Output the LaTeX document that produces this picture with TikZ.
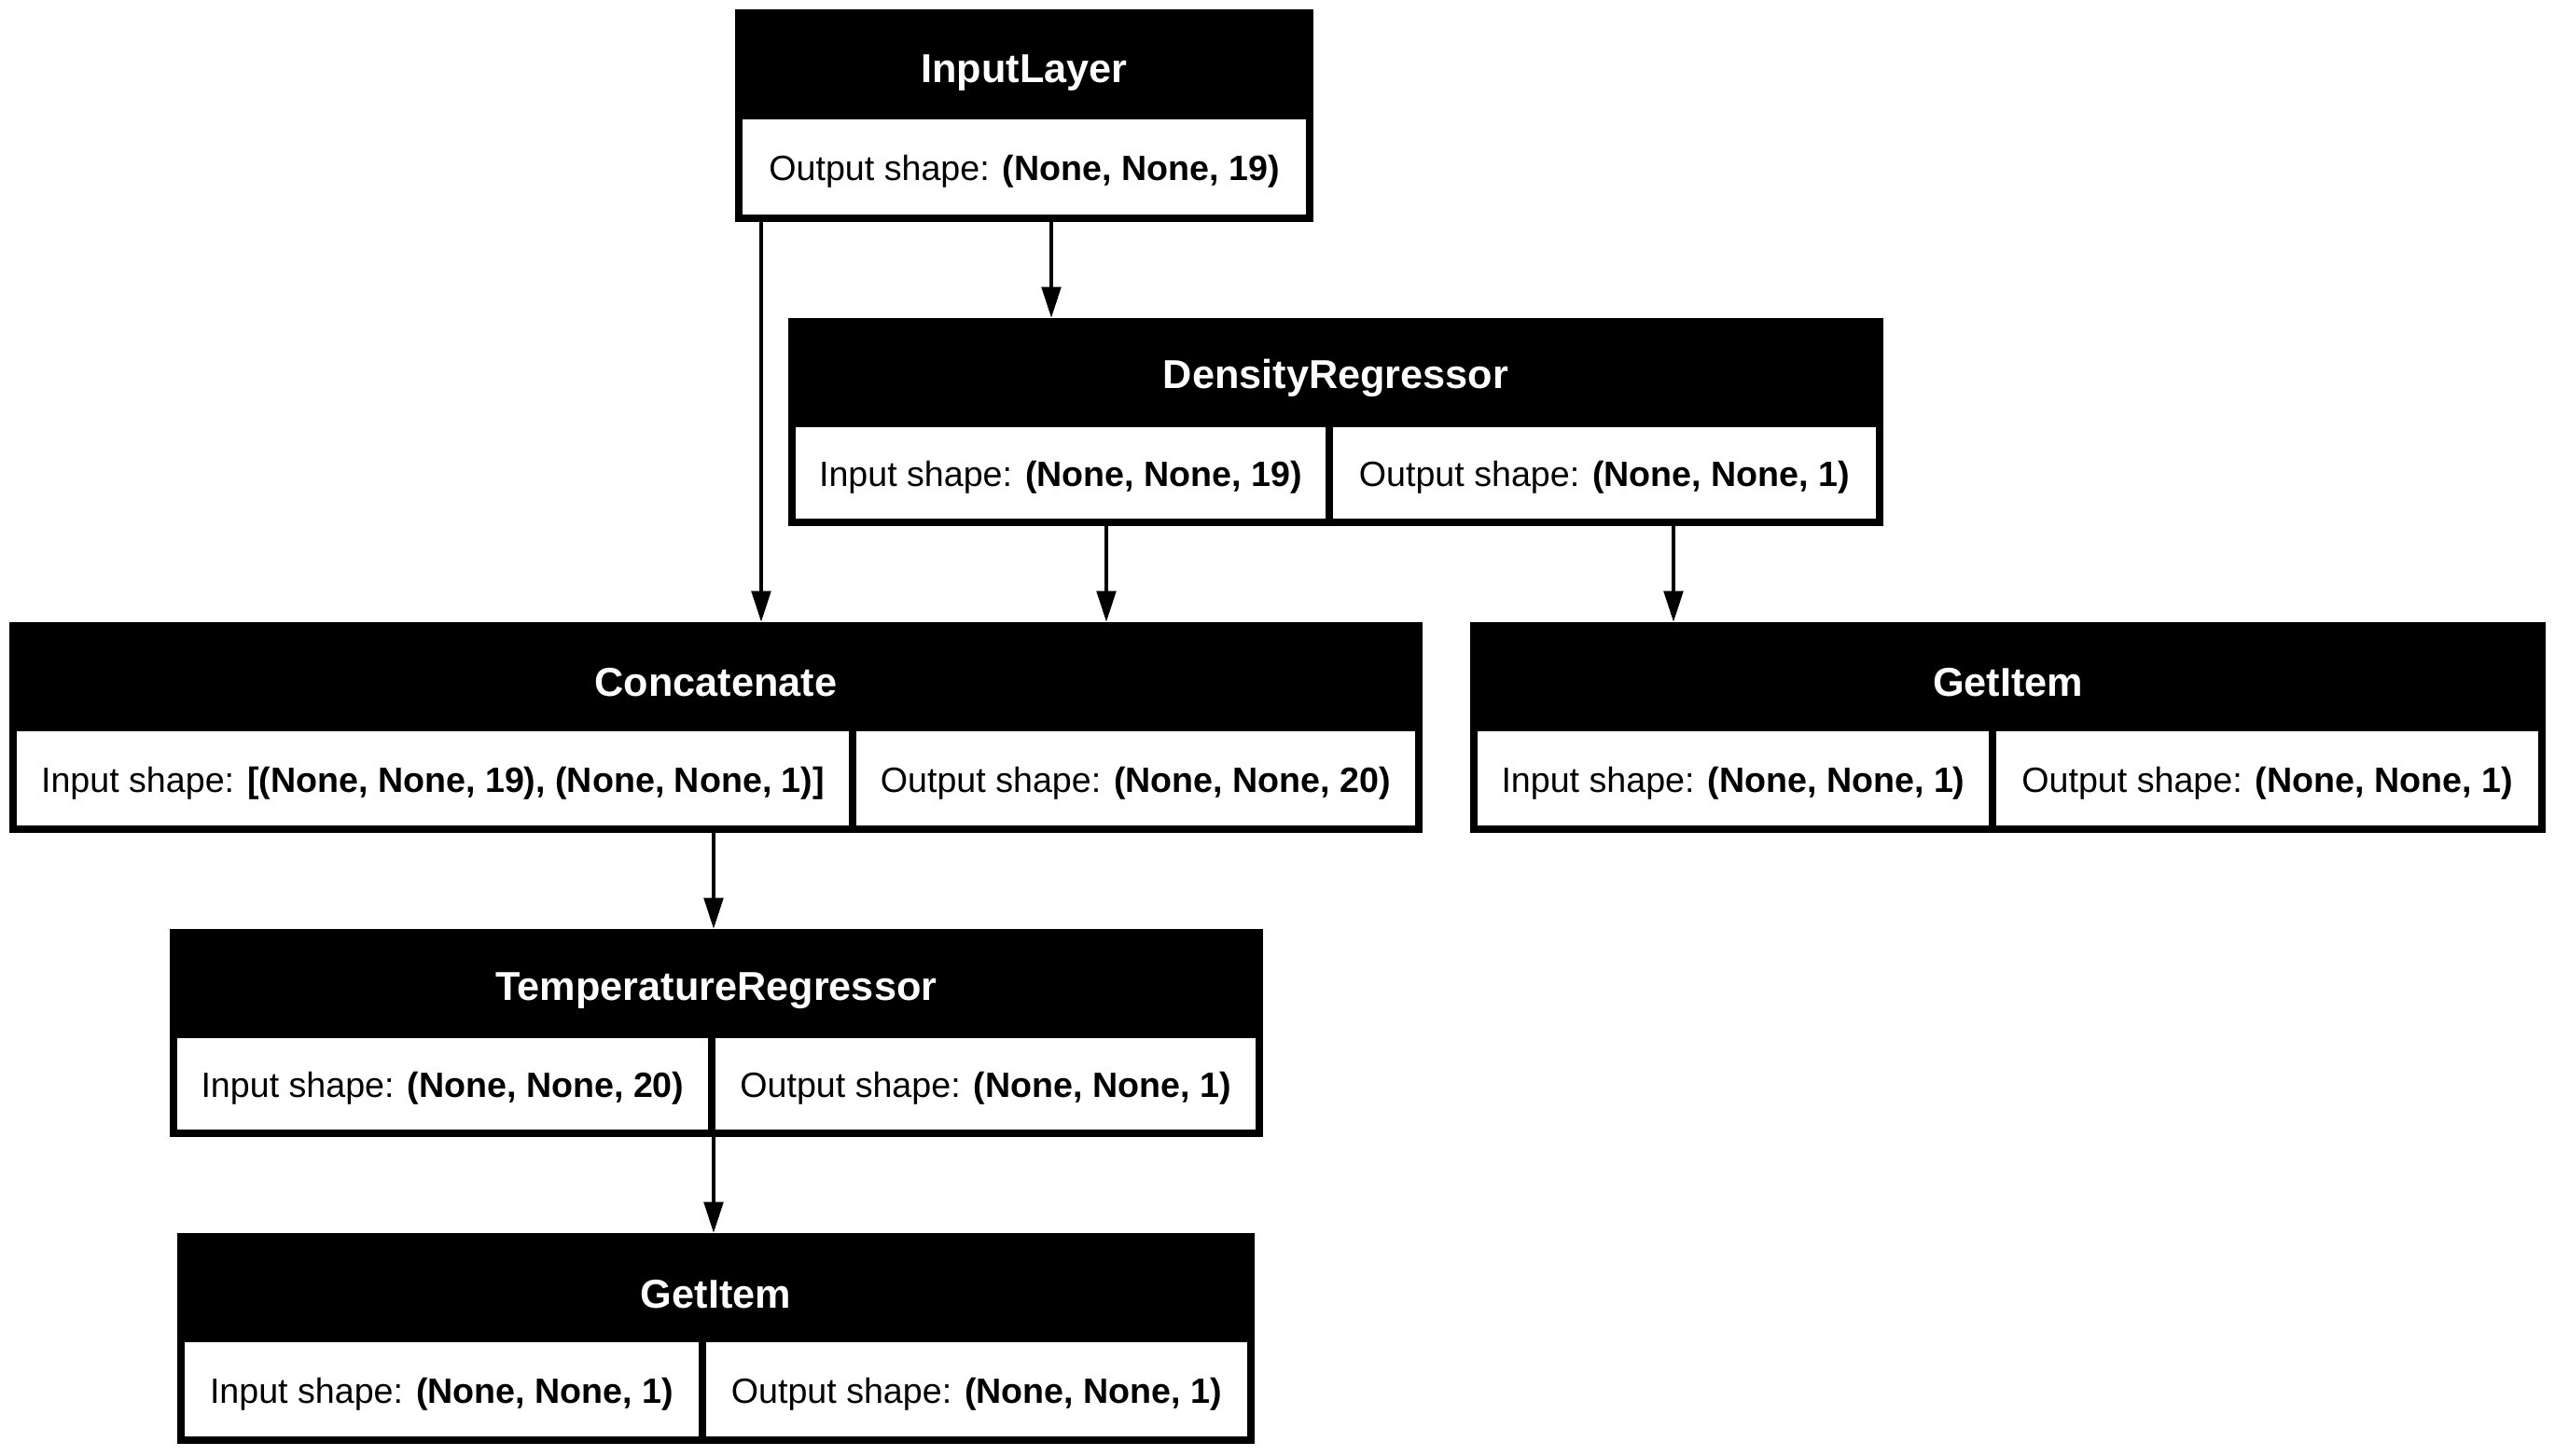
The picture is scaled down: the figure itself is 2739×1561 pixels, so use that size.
\documentclass[tikz,border=0pt]{standalone}
\usepackage{fontspec}
\setmainfont{Liberation Sans}
\usetikzlibrary{arrows.meta}
\begin{document}
\begin{tikzpicture}[x=0.01cm,y=-0.01cm,
  outer/.style={fill=black,draw=none,inner sep=0pt,outer sep=0pt},
  cell/.style={fill=white,draw=none,inner sep=0pt,outer sep=0pt},
  lbl/.style={inner sep=0pt,font=\fontsize{10.7}{12}\selectfont},
  ttl/.style={text=white,font=\fontsize{12.3}{14}\selectfont\bfseries,inner sep=0pt},
  arr/.style={line width=1.25pt,-{Triangle[length=9.5pt,width=5.8pt]}}]
\useasboundingbox[fill=white] (0,0) rectangle (2739,1561);
% InputLayer
\node[outer,minimum width=6.20cm,minimum height=2.28cm] (inL) at (1098,124) {};
\node[ttl] (inLt) at (1098,78) {InputLayer};
\node[cell,minimum width=6.04cm,minimum height=1.02cm] (inLc) at (1098,179) {};
\node[lbl] (inLl) at (1098,184) {Output shape: \textbf{(None, None, 19)}};
% DensityRegressor
\node[outer,minimum width=11.74cm,minimum height=2.23cm] (den) at (1432,452.5) {};
\node[ttl] (dent) at (1432,405) {DensityRegressor};
\node[cell,minimum width=5.68cm,minimum height=0.98cm] (denA) at (1137,507) {};
\node[cell,minimum width=5.82cm,minimum height=0.98cm] (denB) at (1720,507) {};
\node[lbl] (denAl) at (1137,512) {Input shape: \textbf{(None, None, 19)}};
\node[lbl] (denBl) at (1720,512) {Output shape: \textbf{(None, None, 1)}};
% Concatenate
\node[outer,minimum width=15.15cm,minimum height=2.26cm] (con) at (767.5,780) {};
\node[ttl] (cont) at (767.5,732) {Concatenate};
\node[cell,minimum width=8.92cm,minimum height=1.01cm] (conA) at (464,834.5) {};
\node[cell,minimum width=5.99cm,minimum height=1.01cm] (conB) at (1217.5,834.5) {};
\node[lbl] (conAl) at (464,839.5) {Input shape: \textbf{[(None, None, 19), (None, None, 1)]}};
\node[lbl] (conBl) at (1217.5,839.5) {Output shape: \textbf{(None, None, 20)}};
% GetItem right
\node[outer,minimum width=11.53cm,minimum height=2.26cm] (gr) at (2152.5,780) {};
\node[ttl] (grt) at (2152.5,732) {GetItem};
\node[cell,minimum width=5.48cm,minimum height=1.01cm] (grA) at (1858,834.5) {};
\node[cell,minimum width=5.81cm,minimum height=1.01cm] (grB) at (2430.5,834.5) {};
\node[lbl] (grAl) at (1858,839.5) {Input shape: \textbf{(None, None, 1)}};
\node[lbl] (grBl) at (2430.5,839.5) {Output shape: \textbf{(None, None, 1)}};
% TemperatureRegressor
\node[outer,minimum width=11.72cm,minimum height=2.23cm] (tmp) at (768,1107.5) {};
\node[ttl] (tmpt) at (768,1062) {TemperatureRegressor};
\node[cell,minimum width=5.69cm,minimum height=0.98cm] (tmpA) at (474.5,1162) {};
\node[cell,minimum width=5.79cm,minimum height=0.98cm] (tmpB) at (1056.5,1162) {};
\node[lbl] (tmpAl) at (474.5,1167) {Input shape: \textbf{(None, None, 20)}};
\node[lbl] (tmpBl) at (1056.5,1167) {Output shape: \textbf{(None, None, 1)}};
% GetItem bottom
\node[outer,minimum width=11.55cm,minimum height=2.26cm] (gb) at (767.5,1435) {};
\node[ttl] (gbt) at (767.5,1388) {GetItem};
\node[cell,minimum width=5.51cm,minimum height=1.01cm] (gbA) at (473.5,1489.5) {};
\node[cell,minimum width=5.80cm,minimum height=1.01cm] (gbB) at (1047,1489.5) {};
\node[lbl] (gbAl) at (473.5,1494.5) {Input shape: \textbf{(None, None, 1)}};
\node[lbl] (gbBl) at (1047,1494.5) {Output shape: \textbf{(None, None, 1)}};
% connectors
\coordinate (x1) at (816,0);
\coordinate (x2) at (1127,0);
\coordinate (x3) at (1186,0);
\coordinate (x4) at (1794,0);
\coordinate (x5) at (765,0);
\draw[arr] (inL.south -| x1) -- (con.north -| x1);
\draw[arr] (inL.south -| x2) -- (den.north -| x2);
\draw[arr] (den.south -| x3) -- (con.north -| x3);
\draw[arr] (den.south -| x4) -- (gr.north -| x4);
\draw[arr] (con.south -| x5) -- (tmp.north -| x5);
\draw[arr] (tmp.south -| x5) -- (gb.north -| x5);
\end{tikzpicture}
\end{document}
